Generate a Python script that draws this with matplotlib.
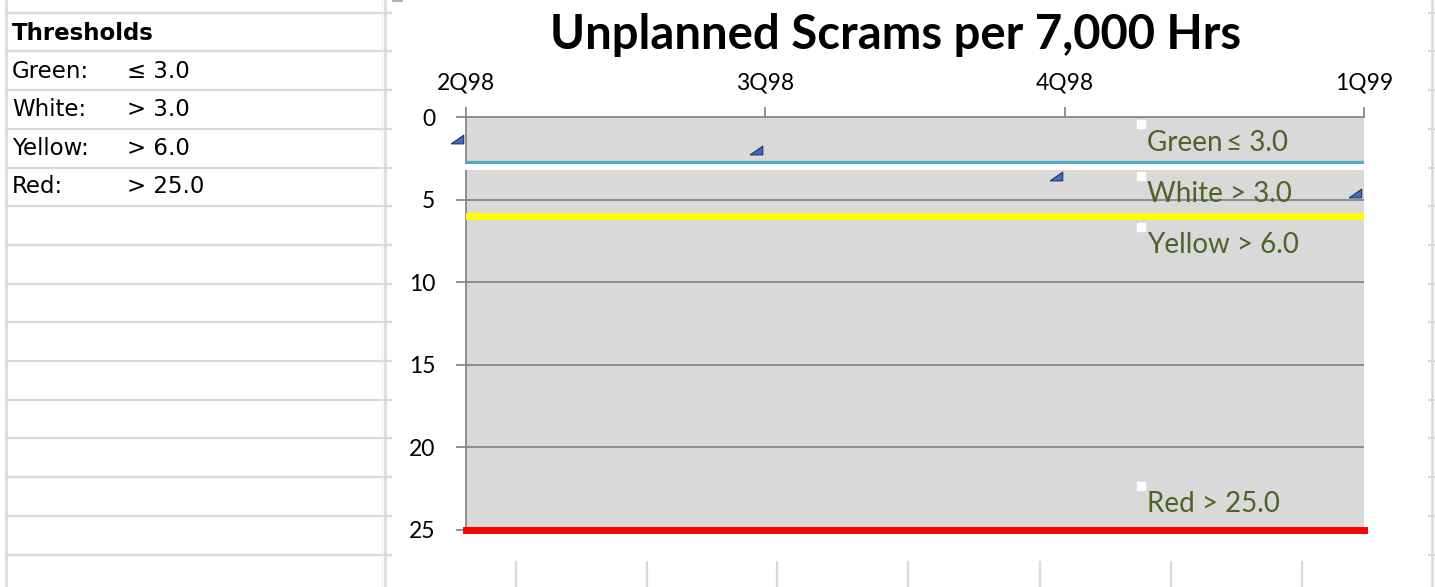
import matplotlib
matplotlib.use("Agg")
import matplotlib.pyplot as plt
from matplotlib.transforms import ScaledTranslation
from matplotlib.patches import Rectangle

# ---------------- data ----------------
categories = ["2Q98", "3Q98", "4Q98", "1Q99"]
scram_values = [1.35, 1.97, 3.6, 4.6]
green_line = 2.75
white_band = (2.85, 3.2)
yellow_line = 6.0
red_line = 25.0
y_ticks = [0, 5, 10, 15, 20, 25]
band_labels = ["Green\u2009\u2264 3.0", "White > 3.0", "Yellow > 6.0", "Red > 25.0"]
band_label_y = [1.55, 4.65, 7.75, 23.45]
table_rows = [("Green:", "\u2264 3.0"), ("White:", "> 3.0"), ("Yellow:", "> 6.0"), ("Red:", "> 25.0")]
title = "Unplanned Scrams per 7,000 Hrs"

FONT = ["Lato", "DejaVu Sans"]
plt.rcParams["font.family"] = FONT
TABLE_FONT = ["DejaVu Sans"]

W, H = 1435, 587
fig = plt.figure(figsize=(W / 100, H / 100), dpi=100)

# ---------------- spreadsheet background ----------------
bg = fig.add_axes([0, 0, 1, 1])
bg.set_xlim(0, W)
bg.set_ylim(H, 0)
bg.axis("off")
gc = "#D9D9D9"
row_y = [12.7 + 38.7 * i for i in range(15)]
for y in row_y:
    bg.plot([7, 392], [y, y], color=gc, lw=1.6, solid_capstyle="butt")
    bg.plot([1428, W], [y, y], color=gc, lw=1.6, solid_capstyle="butt")
bg.plot([6, 6], [0, H], color=gc, lw=1.8)
bg.plot([385, 385], [0, H], color=gc, lw=1.8)
bg.plot([382, 382], [0, H], color="#EEEEEE", lw=0.8)
bg.plot([1432, 1432], [0, H], color=gc, lw=1.8)
for x in [516, 647, 777, 908, 1040, 1171, 1302]:
    bg.plot([x, x], [562, H], color=gc, lw=1.6)
# chart area (white)
bg.add_patch(Rectangle((392, -1), 1036, 561, facecolor="white", edgecolor="none", zorder=3))
bg.plot([393, 402], [0.8, 0.8], color="#A0A0A0", lw=1.2, zorder=4)

# table text
bg.text(12, 33, "Thresholds", fontsize=16.5, fontweight="bold", va="center", ha="left",
        family=TABLE_FONT, zorder=5)
for i, (a, b) in enumerate(table_rows):
    yy = 71 + 38.6 * i
    bg.text(12, yy, a, fontsize=16.5, va="center", ha="left", family=TABLE_FONT, zorder=5)
    bg.text(127, yy, b, fontsize=16.5, va="center", ha="left", family=TABLE_FONT, zorder=5)

# ---------------- chart ----------------
L, R, T, B = 466, 1364, 117, 530
ax = fig.add_axes([L / W, 1 - B / H, (R - L) / W, (B - T) / H])
ax.set_facecolor("#D9D9D9")
ax.set_xlim(0, len(categories) - 1)
ax.set_ylim(red_line, 0)

ax.set_yticks(y_ticks)
ax.set_yticklabels([str(v) for v in y_ticks], fontsize=16.5)
ax.set_xticks(range(len(categories)))
ax.set_xticklabels(categories, fontsize=16.5)
ax.xaxis.tick_top()
ax.tick_params(axis="x", direction="out", length=7.2, width=1.2, color="#808080", pad=10)
ax.tick_params(axis="y", direction="out", length=7.2, width=1.2, color="#808080", pad=15)
for s in ["right", "bottom"]:
    ax.spines[s].set_visible(False)
for s in ["left", "top"]:
    ax.spines[s].set_color("#808080")
    ax.spines[s].set_linewidth(1.2)
for v in y_ticks[1:-1]:
    ax.axhline(v, color="#808080", lw=1.2, zorder=1)

ax.axhline(green_line, color="#4BACC6", lw=2.4, zorder=4)
ax.axhspan(white_band[0], white_band[1], xmin=-0.005, color="white", lw=0, zorder=4, clip_on=False)
ax.axhline(yellow_line, color="#FFFF00", lw=5, zorder=4)
ax.axhline(red_line, color="#FF0000", lw=5, zorder=4, clip_on=False)

# markers
tri = [(-1, -0.7), (1, -0.7), (1, 0.7), (-1, -0.7)]
off = ScaledTranslation(-0.09, 0, fig.dpi_scale_trans)
ax.plot(range(len(categories)), scram_values, linestyle="none", marker=tri, markersize=9,
        markerfacecolor="#3F6DBE", markeredgecolor="#1F3864", markeredgewidth=0.8,
        transform=ax.transData + off, clip_on=False, zorder=6)

# band labels
lab_x = 2.275
for txt, yv in zip(band_labels, band_label_y):
    ax.text(lab_x, yv, txt, fontsize=20, color="#4F6228", va="center", ha="left", zorder=7)
    ax.plot([lab_x - 0.02], [yv - 1.1], marker="s", markersize=6, color="white",
            linestyle="none", zorder=7)

fig.text(896 / W, 1 - 35 / H, title, fontsize=34, fontweight="bold", ha="center", va="center")

fig.savefig("out.png", dpi=100)
